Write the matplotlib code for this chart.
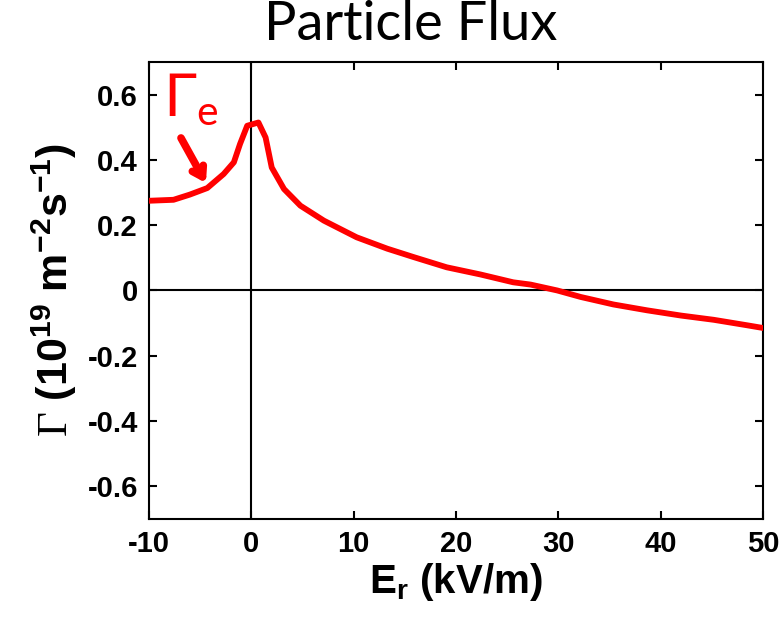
import matplotlib
matplotlib.use('Agg')
import matplotlib.pyplot as plt
import numpy as np

plt.rcParams['font.family'] = ['Liberation Sans', 'DejaVu Sans']
plt.rcParams['mathtext.fontset'] = 'custom'
plt.rcParams['mathtext.rm'] = 'Liberation Serif'
plt.rcParams['mathtext.bf'] = 'Liberation Sans:bold'

# radial electric field (kV/m) and particle flux (1e19 m^-2 s^-1)
er = [-10, -7.6, -6, -4.3, -2.7, -1.7, -1.1, -0.4, 0.7, 1.4, 2.0, 3.2, 4.8, 7.1,
      10.3, 13.3, 15.9, 19.1, 22.4, 25.6, 27.3, 29.9, 32.2, 35.4, 38.7, 42, 45.2, 48.5, 50]
flux = [0.275, 0.278, 0.294, 0.314, 0.357, 0.393, 0.449, 0.505, 0.515, 0.469, 0.377,
        0.311, 0.26, 0.214, 0.163, 0.128, 0.102, 0.071, 0.049, 0.025, 0.018, 0.0,
        -0.02, -0.043, -0.061, -0.077, -0.09, -0.107, -0.115]

xticks = [-10, 0, 10, 20, 30, 40, 50]
yticks = [-0.6, -0.4, -0.2, 0, 0.2, 0.4, 0.6]
ytick_labels = ['-0.6', '-0.4', '-0.2', '0', '0.2', '0.4', '0.6']

fig = plt.figure(figsize=(7.84, 6.28), dpi=100)
ax = fig.add_axes([0.190, 0.174, 0.783, 0.727])

ax.axhline(0, color='black', lw=1.5, zorder=1)
ax.axvline(0, color='black', lw=1.5, zorder=1)
ax.plot(er, flux, color='red', lw=4.2, zorder=3)

ax.set_xlim(-10, 50)
ax.set_ylim(-0.7, 0.7)
ax.set_xticks(xticks)
ax.set_xticklabels([str(t) for t in xticks])
ax.set_yticks(yticks)
ax.set_yticklabels(ytick_labels)
ax.tick_params(direction='in', top=True, right=True, length=6, width=1.5,
               labelsize=21, pad=8)
for lab in ax.get_xticklabels() + ax.get_yticklabels():
    lab.set_fontweight('bold')
for s in ax.spines.values():
    s.set_linewidth(1.5)

ax.set_xlabel(r'E$_{\mathbf{r}}$ (kV/m)', fontsize=29, fontweight='bold', labelpad=2)
ax.set_ylabel(r'$\Gamma$ (10$^{\mathbf{19}}$ m$^{\mathbf{-2}}$s$^{\mathbf{-1}}$)',
              fontsize=31, fontweight='bold', labelpad=6)

fig.text(0.524, 1.0, 'Particle Flux', ha='center', va='top', fontsize=39,
         family='Lato')

# Gamma_e label with arrow
ax.text(-8.6, 0.535, r'$\Gamma_{\mathregular{e}}$', color='red', fontsize=42,
        family='Lato', va='baseline', math_fontfamily='dejavusans')
ax.annotate('', xy=(-4.3, 0.322), xytext=(-7.0, 0.475),
            arrowprops=dict(arrowstyle='->,head_length=0.7,head_width=0.45',
                            color='red', lw=5.5))

fig.savefig('out.png', dpi=100, facecolor='white')
